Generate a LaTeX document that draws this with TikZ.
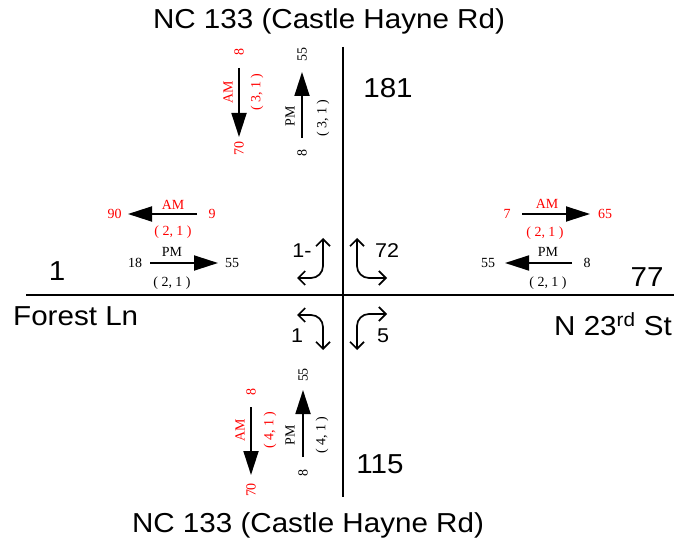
\documentclass[tikz,border=0pt]{standalone}
\usepackage{fontspec}
\setmainfont{Liberation Serif}
\newfontfamily\arialw[FakeStretch=1.08]{Liberation Sans}
\usetikzlibrary{arrows.meta}
\definecolor{amred}{RGB}{255,0,0}
\begin{document}
\begin{tikzpicture}[x=1bp,y=-1bp,
  big/.style={font=\arialw\fontsize{27.5}{30}\selectfont, inner sep=0pt, anchor=base},
  turnlbl/.style={font=\arialw\fontsize{20}{22}\selectfont, inner sep=0pt, anchor=base},
  sm/.style={font=\fontsize{14}{16}\selectfont, inner sep=0pt},
  am/.style={sm, text=amred},
  pm/.style={sm, text=black},
  flow/.style={line width=1.8bp, -{Triangle[length=24bp,width=15bp]}},
  turn/.style={line width=1.7bp, rounded corners=12bp, {Straight Barb[length=7bp,width=14bp]}-{Straight Barb[length=7bp,width=14bp]}},
  road/.style={line width=2bp}]
\useasboundingbox (0,0) rectangle (674,540);

% roads
\coordinate (hW) at (26,295); \coordinate (hE) at (674,295);
\coordinate (vN) at (343,47); \coordinate (vS) at (343,497);
\draw[road] (hW) -- (hE);
\draw[road] (vN) -- (vS);

% big labels
\node[big] (titleN) at (329,29) {NC 133 (Castle Hayne Rd)};
\node[big] (titleS) at (308,532) {NC 133 (Castle Hayne Rd)};
\node[big] (vol181) at (388,98) {181};
\node[big] (vol115) at (380,473) {115};
\node[big] (vol1) at (57,280) {1};
\node[big] (vol77) at (647,286) {77};
\node[big, anchor=base west] (forest) at (13,325) {Forest Ln};
\node[big, anchor=base west] (n23) at (554,335) {N 23\textsuperscript{rd} St};

% turn movements
\node[turnlbl] (t1m) at (302,258) {1-};
\node[turnlbl] (t72) at (387,258) {72};
\node[turnlbl] (t1) at (297,342) {1};
\node[turnlbl] (t5) at (383,342) {5};
\coordinate (ulA) at (297,278); \coordinate (ulB) at (323,278); \coordinate (ulC) at (323,238);
\coordinate (urA) at (357,238); \coordinate (urB) at (357,278); \coordinate (urC) at (387,278);
\coordinate (llA) at (297,315); \coordinate (llB) at (323,315); \coordinate (llC) at (323,350);
\coordinate (lrA) at (357,350); \coordinate (lrB) at (357,314); \coordinate (lrC) at (387,314);
\draw[turn] (ulA) -- (ulB) -- (ulC);
\draw[turn] (urA) -- (urB) -- (urC);
\draw[turn] (llA) -- (llB) -- (llC);
\draw[turn] (lrA) -- (lrB) -- (lrC);

% top AM
\coordinate (tamS) at (239,68); \coordinate (tamE) at (239,137);
\draw[flow] (tamS) -- (tamE);
\node[am, rotate=90] (tamIn) at (239,52) {8};
\node[am, rotate=90] (tamOut) at (239,149) {70};
\node[am, rotate=90] (tamL) at (228,92) {AM};
\node[am, rotate=90] (tamP) at (257,92) {( 3, 1 )};
% top PM
\coordinate (tpmS) at (302,138); \coordinate (tpmE) at (302,72);
\draw[flow] (tpmS) -- (tpmE);
\node[pm, rotate=90] (tpmOut) at (302,55) {55};
\node[pm, rotate=90] (tpmIn) at (302,153) {8};
\node[pm, rotate=90] (tpmL) at (290,116) {PM};
\node[pm, rotate=90] (tpmP) at (323,118) {( 3, 1 )};

% left AM
\coordinate (lamS) at (197,214); \coordinate (lamE) at (128,214);
\draw[flow] (lamS) -- (lamE);
\node[am] (lamOut) at (114.5,214) {90};
\node[am] (lamIn) at (212,214) {9};
\node[am] (lamL) at (173,205) {AM};
\node[am] (lamP) at (173,232) {( 2, 1 )};
% left PM
\coordinate (lpmS) at (150,263); \coordinate (lpmE) at (218,263);
\draw[flow] (lpmS) -- (lpmE);
\node[pm] (lpmIn) at (135,263) {18};
\node[pm] (lpmOut) at (232,263) {55};
\node[pm] (lpmL) at (172,252) {PM};
\node[pm] (lpmP) at (172,283) {( 2, 1 )};

% right AM
\coordinate (ramS) at (522,214); \coordinate (ramE) at (590,214);
\draw[flow] (ramS) -- (ramE);
\node[am] (ramIn) at (507,214) {7};
\node[am] (ramOut) at (605,214) {65};
\node[am] (ramL) at (547,204) {AM};
\node[am] (ramP) at (545,233) {( 2, 1 )};
% right PM
\coordinate (rpmS) at (572,263); \coordinate (rpmE) at (505,263);
\draw[flow] (rpmS) -- (rpmE);
\node[pm] (rpmOut) at (488,263) {55};
\node[pm] (rpmIn) at (587,263) {8};
\node[pm] (rpmL) at (548,252) {PM};
\node[pm] (rpmP) at (548,283) {( 2, 1 )};

% bottom AM
\coordinate (bamS) at (251,407); \coordinate (bamE) at (251,475);
\draw[flow] (bamS) -- (bamE);
\node[am, rotate=90] (bamIn) at (251,392) {8};
\node[am, rotate=90] (bamOut) at (251,490) {70};
\node[am, rotate=90] (bamL) at (240,430) {AM};
\node[am, rotate=90] (bamP) at (270,430) {( 4, 1 )};
% bottom PM
\coordinate (bpmS) at (303,457); \coordinate (bpmE) at (303,390);
\draw[flow] (bpmS) -- (bpmE);
\node[pm, rotate=90] (bpmOut) at (303,375) {55};
\node[pm, rotate=90] (bpmIn) at (303,473) {8};
\node[pm, rotate=90] (bpmL) at (290,435) {PM};
\node[pm, rotate=90] (bpmP) at (322,435) {( 4, 1 )};
\end{tikzpicture}
\end{document}
